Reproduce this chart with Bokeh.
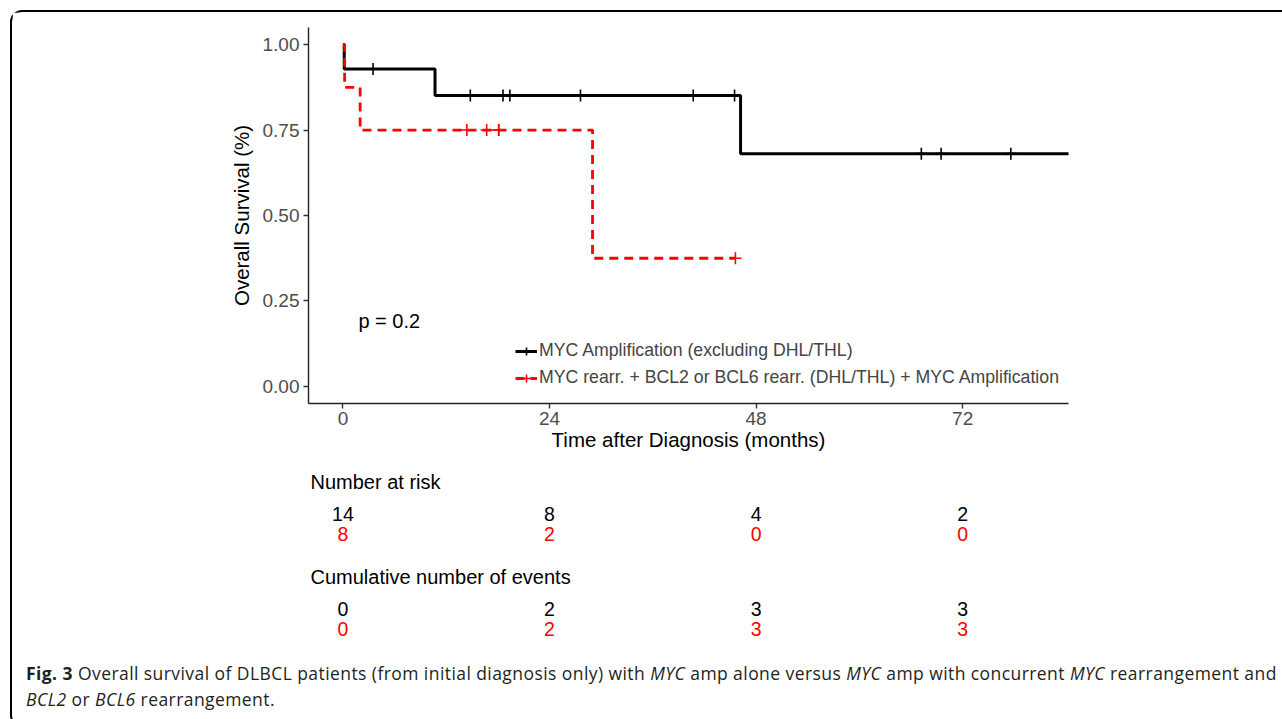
from bokeh.plotting import figure
from bokeh.models import Range1d, FixedTicker, NumeralTickFormatter, Legend, LegendItem, Div
from bokeh.layouts import column
from bokeh.embed import file_html
from bokeh.resources import INLINE
from bokeh.core.properties import value

# ---------------- data ----------------
black_label = "MYC Amplification (excluding DHL/THL)"
red_label = "MYC rearr. + BCL2 or BCL6 rearr. (DHL/THL) + MYC Amplification"

# patient-level follow-up (months) and status (1 = death, 0 = censored)
black_times = [0.15, 3.5, 10.7, 14.8, 18.6, 19.4, 27.6, 40.7, 45.5, 46.2, 67.2, 69.5, 77.6, 88.0]
black_status = [1, 0, 1, 0, 0, 0, 0, 0, 0, 1, 0, 0, 0, 0]
red_times = [0.2, 2.0, 14.4, 16.7, 18.1, 18.1, 29.0, 45.6]
red_status = [1, 1, 0, 0, 0, 0, 1, 0]

x_ticks = [0, 24, 48, 72]
y_ticks = [0.0, 0.25, 0.5, 0.75, 1.0]

risk_times = [0, 24, 48, 72]
risk_black = [14, 8, 4, 2]
risk_red = [8, 2, 0, 0]
events_black = [0, 2, 3, 3]
events_red = [0, 2, 3, 3]

p_text = "p = 0.2"
x_title = "Time after Diagnosis (months)"
y_title = "Overall Survival (%)"
risk_title = "Number at risk"
events_title = "Cumulative number of events"

FONT = "Liberation Sans"
RED = "#FF0000"


def kaplan_meier(times, status):
    pairs = sorted(zip(times, status))
    uniq = sorted(set(times))
    s = 1.0
    xs, ys, cx, cy = [0.0], [1.0], [], []
    for t in uniq:
        n = sum(1 for tt, _ in pairs if tt >= t)
        d = sum(1 for tt, st in pairs if tt == t and st == 1)
        c = sum(1 for tt, st in pairs if tt == t and st == 0)
        if d:
            s *= (1 - d / n)
            xs.append(t)
            ys.append(s)
        for _ in range(c):
            cx.append(t)
            cy.append(s)
    xs.append(max(times))
    ys.append(s)
    return xs, ys, cx, cy


bx, by, bcx, bcy = kaplan_meier(black_times, black_status)
rx, ry, rcx, rcy = kaplan_meier(red_times, red_status)

W = 1262
LEFT, RIGHT = 296, 206
x_range = Range1d(-4, 84.3)

p = figure(width=W, height=450, x_range=x_range, y_range=Range1d(-0.05, 1.05),
           output_backend="svg", toolbar_location=None,
           min_border_left=LEFT, min_border_right=RIGHT, min_border_top=15, min_border_bottom=59)
p.grid.visible = False
p.outline_line_color = None
p.background_fill_color = "white"
p.border_fill_color = "white"

for ax in (p.xaxis, p.yaxis):
    ax.axis_line_color = "#222222"
    ax.axis_line_width = 1.4
    ax.major_tick_line_color = "#333333"
    ax.major_tick_line_width = 1.4
    ax.major_tick_out = 5
    ax.major_tick_in = 0
    ax.minor_tick_line_color = None
    ax.major_label_text_font = FONT
    ax.major_label_text_font_size = "19px"
    ax.major_label_text_color = "#4D4D4D"
    ax.axis_label_text_font = FONT
    ax.axis_label_text_font_size = "20.5px"
    ax.axis_label_text_font_style = "normal"
    ax.axis_label_text_color = "black"

p.xaxis.ticker = FixedTicker(ticks=x_ticks)
p.yaxis.ticker = FixedTicker(ticks=y_ticks)
p.yaxis.formatter = NumeralTickFormatter(format="0.00")
p.xaxis.axis_label = x_title
p.yaxis.axis_label = y_title
p.xaxis.major_label_standoff = 3
p.yaxis.major_label_standoff = 4
p.xaxis.axis_label_standoff = 0
p.yaxis.axis_label_standoff = 7

b_line = p.step(bx, by, mode="after", line_color="black", line_width=3.0)
b_cross = p.scatter(bcx, bcy, marker="cross", size=12, line_color="black", line_width=1.6)
r_line = p.step(rx, ry, mode="after", line_color=RED, line_width=2.8, line_dash="9 6")
r_cross = p.scatter(rcx, rcy, marker="cross", size=12, line_color=RED, line_width=1.6)

p.text(x=[1.8], y=[0.19], text=[p_text], text_font=value(FONT), text_font_size="20px",
       text_baseline="middle", text_align="left", text_color="black")

legend = Legend(items=[LegendItem(label=black_label, renderers=[b_line, b_cross]),
                       LegendItem(label=red_label, renderers=[r_line, r_cross])],
                location=(207, 15), glyph_width=22, glyph_height=20, label_height=20,
                spacing=6, padding=0, margin=0, label_standoff=2,
                border_line_color=None, background_fill_alpha=0,
                label_text_font=FONT, label_text_font_size="17.7px", label_text_baseline="middle")
p.add_layout(legend)

# ---------------- risk table ----------------
RH = 183
rf = figure(width=W, height=RH, x_range=x_range, y_range=Range1d(RH, 0),
            output_backend="svg", toolbar_location=None,
            x_axis_location=None, y_axis_location=None,
            min_border_left=LEFT, min_border_right=RIGHT, min_border_top=0, min_border_bottom=0)
rf.grid.visible = False
rf.outline_line_color = None
rf.border_fill_color = "white"

row_title1, row_b1, row_r1 = 19, 51, 71
row_title2, row_b2, row_r2 = 114, 146, 166

rf.text(x=[x_range.start, x_range.start], y=[row_title1, row_title2], text=[risk_title, events_title],
        x_offset=2, text_font=value(FONT), text_font_size="20px", text_baseline="middle",
        text_align="left", text_color="black")
rf.text(x=risk_times, y=[row_b1] * 4, text=[str(v) for v in risk_black], text_font=value(FONT),
        text_font_size="19.5px", text_baseline="middle", text_align="center", text_color="black")
rf.text(x=risk_times, y=[row_r1] * 4, text=[str(v) for v in risk_red], text_font=value(FONT),
        text_font_size="19.5px", text_baseline="middle", text_align="center", text_color=RED)
rf.text(x=risk_times, y=[row_b2] * 4, text=[str(v) for v in events_black], text_font=value(FONT),
        text_font_size="19.5px", text_baseline="middle", text_align="center", text_color="black")
rf.text(x=risk_times, y=[row_r2] * 4, text=[str(v) for v in events_red], text_font=value(FONT),
        text_font_size="19.5px", text_baseline="middle", text_align="center", text_color=RED)

# ---------------- caption ----------------
caption_html = (
    '<div style="padding:10px 0 0 9px; font-family:\'Open Sans\'; font-size:17.5px; '
    'letter-spacing:0.43px; line-height:26px; white-space:nowrap; color:#231F20;">'
    '<b>Fig. 3</b> Overall survival of DLBCL patients (from initial diagnosis only) with '
    '<i>MYC</i> amp alone versus <i>MYC</i> amp with concurrent <i>MYC</i> rearrangement and<br>'
    '<i>BCL2</i> or <i>BCL6</i> rearrangement.</div>'
)
cap = Div(text=caption_html, width=1269, height=70)

layout = column(p, rf, cap, margin=(10, 0, 0, 10),
                styles={"border-top": "2px solid black", "border-left": "2px solid black",
                        "border-bottom": "2px solid black",
                        "border-top-left-radius": "12px", "border-bottom-left-radius": "12px"})

open("out.html", "w").write(file_html(layout, INLINE))
